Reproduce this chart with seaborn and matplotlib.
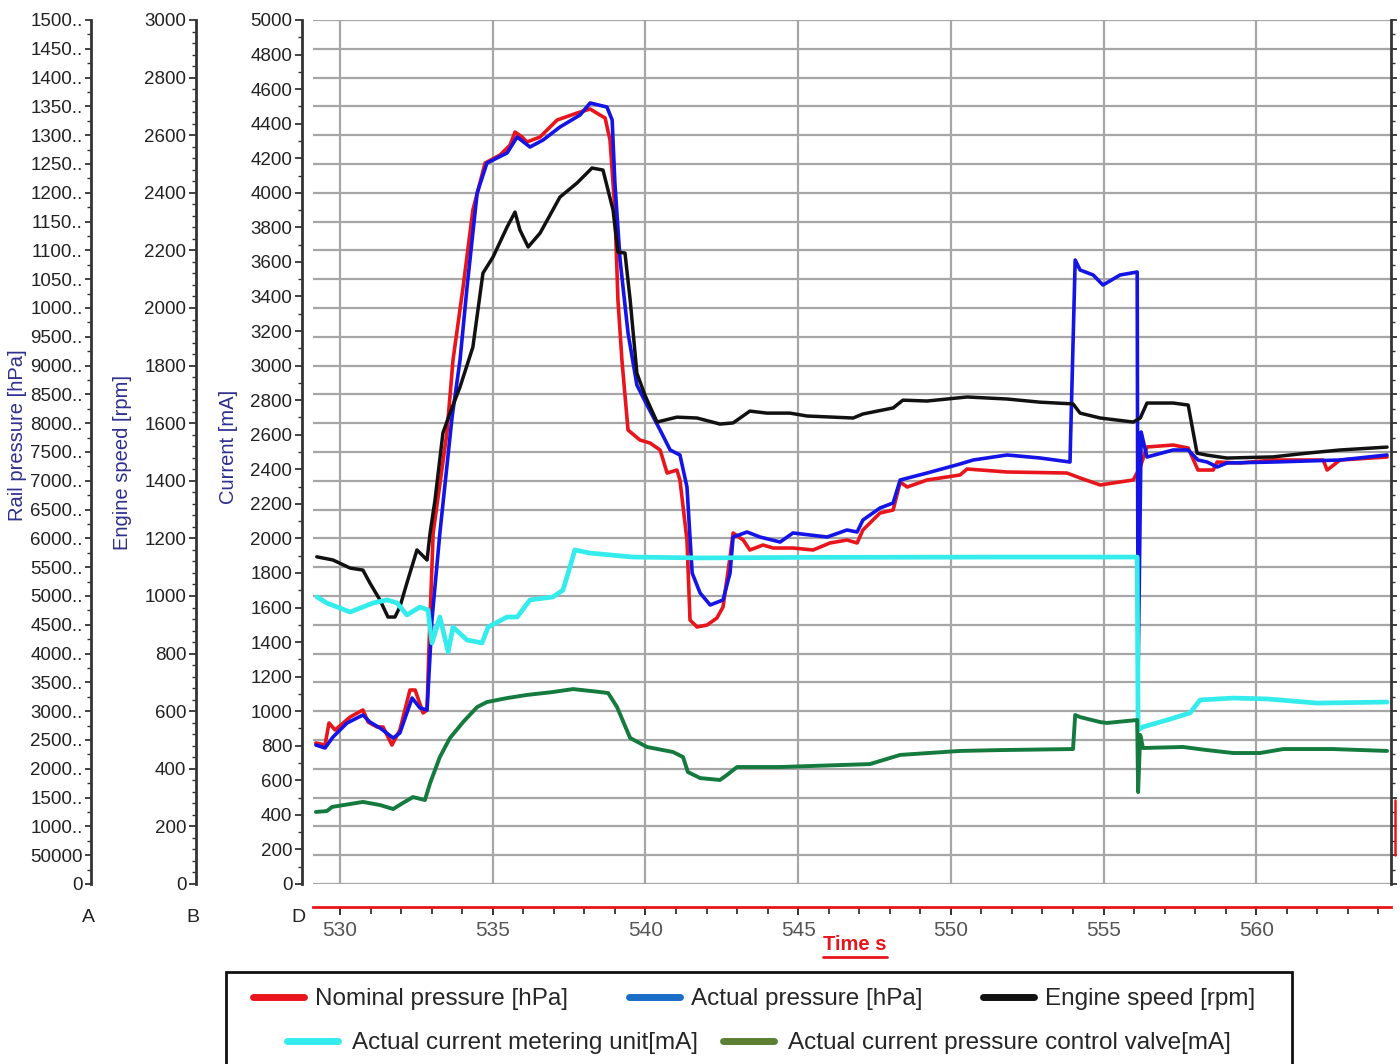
import matplotlib
matplotlib.use('Agg')
import matplotlib.pyplot as plt
import seaborn as sns
from matplotlib.ticker import MultipleLocator, FuncFormatter
from matplotlib.lines import Line2D
from matplotlib.patches import Rectangle

sns.set_style('white')
plt.rcParams['font.family'] = ['Liberation Sans', 'DejaVu Sans']

# ---------------- data ----------------
# Engine speed [rpm]  (axis B)
speed_t = [529.24, 529.77, 530.33, 530.75, 530.98, 531.31, 531.57, 531.80, 531.96, 532.19,
           532.52, 532.85, 532.95, 533.11, 533.37, 533.60, 533.93, 534.35, 534.68, 535.01,
           535.47, 535.73, 535.89, 536.16, 536.55, 537.20, 537.76, 538.25, 538.61, 538.94,
           539.10, 539.33, 539.50, 539.72, 539.98, 540.38, 541.03, 541.69, 542.44, 542.87,
           543.42, 543.98, 544.73, 545.29, 546.80, 547.12, 548.11, 548.43, 549.22, 550.53,
           551.84, 552.92, 554.00, 554.23, 554.89, 555.97, 556.20, 556.42, 557.28, 557.77,
           558.06, 558.39, 559.04, 560.55, 561.66, 562.74, 564.28]
speed_rpm = [1136, 1125, 1097, 1090, 1045, 986, 927, 927, 962, 1045,
             1160, 1125, 1219, 1333, 1566, 1635, 1726, 1864, 2121, 2177,
             2281, 2333, 2271, 2212, 2260, 2385, 2434, 2486, 2479, 2340,
             2194, 2191, 2028, 1774, 1698, 1604, 1621, 1618, 1597, 1601,
             1642, 1635, 1635, 1625, 1618, 1632, 1653, 1680, 1677, 1691,
             1684, 1673, 1667, 1635, 1618, 1604, 1618, 1670, 1670, 1663,
             1496, 1489, 1479, 1483, 1496, 1507, 1517]

# Nominal pressure [hPa]  (axis A)
nominal_t = [529.21, 529.51, 529.64, 529.84, 530.33, 530.75, 530.92, 531.21, 531.41, 531.70,
             531.96, 532.29, 532.46, 532.72, 532.85, 532.91, 533.05, 533.50, 533.70, 534.03,
             534.35, 534.75, 535.24, 535.57, 535.73, 535.96, 536.12, 536.55, 537.11, 537.76,
             538.19, 538.51, 538.68, 538.84, 539.00, 539.10, 539.23, 539.43, 539.82, 540.15,
             540.48, 540.71, 541.03, 541.13, 541.36, 541.46, 541.69, 542.02, 542.34, 542.54,
             542.77, 542.87, 543.20, 543.42, 543.85, 544.18, 544.83, 545.49, 546.04, 546.60,
             546.93, 547.12, 547.68, 548.11, 548.34, 548.57, 549.22, 550.30, 550.53, 551.84,
             553.80, 554.23, 554.89, 555.31, 555.97, 556.20, 556.42, 557.28, 557.77, 558.09,
             558.59, 558.72, 559.47, 560.55, 562.19, 562.32, 562.74, 564.28]
nominal_hpa = [244800, 241300, 279500, 267400, 289900, 302100, 281200, 272600, 272600, 241300,
               267400, 336800, 336800, 296900, 302100, 406200, 609400, 783000, 909700, 1036400,
               1170100, 1251700, 1265600, 1283000, 1305500, 1296900, 1288200, 1296900, 1326400, 1338500,
               1345500, 1335100, 1329900, 1291700, 1170100, 1013900, 909700, 788200, 770800, 765600,
               753500, 713500, 718700, 701400, 597200, 458300, 446200, 449600, 461800, 480900,
               567700, 609400, 597200, 579900, 588500, 583300, 583300, 579900, 592000, 597200,
               592000, 614600, 644100, 649300, 697900, 689200, 701400, 710100, 720500, 715300,
               713500, 704900, 692700, 696200, 701400, 724000, 758700, 762100, 756900, 718700,
               718700, 732600, 730900, 736100, 736100, 718700, 736100, 741300]

# Actual pressure [hPa]  (axis A)
actual_t = [529.21, 529.51, 529.77, 530.23, 530.75, 530.98, 531.31, 531.74, 531.96, 532.36,
            532.62, 532.85, 533.01, 533.27, 533.67, 533.93, 534.16, 534.49, 534.81, 535.47,
            535.80, 536.22, 536.65, 537.20, 537.86, 538.19, 538.74, 538.91, 539.00, 539.17,
            539.43, 539.72, 540.05, 540.48, 540.81, 541.13, 541.36, 541.53, 541.79, 542.12,
            542.54, 542.77, 542.87, 543.33, 543.75, 544.41, 544.83, 545.95, 546.60, 546.93,
            547.12, 547.68, 548.11, 548.34, 549.22, 550.30, 550.73, 551.84, 552.92, 553.90,
            554.07, 554.23, 554.66, 554.98, 555.54, 556.10, 556.13, 556.23, 556.42, 557.28,
            557.77, 558.09, 558.39, 558.72, 559.04, 560.55, 562.74, 564.28]
actual_hpa = [241300, 236100, 255200, 279500, 293400, 281200, 270800, 253500, 262100, 322900,
              305500, 302100, 458300, 609400, 810800, 909700, 1036400, 1199600, 1251700, 1269100,
              1296900, 1279500, 1291700, 1314200, 1335100, 1355900, 1348900, 1326400, 1217000, 1083300,
              956600, 866300, 831600, 788200, 753500, 744800, 689200, 539900, 505200, 484400,
              493100, 539900, 602400, 611100, 602400, 593700, 609400, 602400, 614600, 611100,
              631900, 652800, 661500, 701400, 713500, 729200, 736100, 744800, 739600, 732600,
              1083300, 1066000, 1057300, 1039900, 1057300, 1062500, 359400, 784700, 741300, 753500,
              753500, 736100, 732600, 724000, 730900, 732600, 736100, 744800]

# Actual current metering unit [mA]  (axis D)
metering_t = [529.25, 529.57, 530.33, 531.08, 531.54, 531.87, 532.19, 532.62, 532.88, 533.01,
              533.27, 533.54, 533.70, 534.16, 534.65, 534.85, 535.47, 535.80, 536.22, 536.97,
              537.30, 537.47, 537.69, 538.19, 539.59, 541.79, 545.06, 551.61, 556.10, 556.13,
              556.29, 557.08, 557.83, 558.16, 559.24, 560.35, 561.99, 564.28]
metering_ma = [1661, 1626, 1574, 1626, 1644, 1626, 1557, 1603, 1586, 1395,
               1545, 1343, 1487, 1412, 1395, 1487, 1545, 1545, 1644, 1661,
               1701, 1800, 1933, 1915, 1892, 1887, 1890, 1892, 1892, 891,
               909, 949, 990, 1065, 1076, 1071, 1047, 1053]

# Actual current pressure control valve [mA]  (axis D)
valve_t = [529.21, 529.57, 529.74, 530.75, 531.31, 531.74, 532.06, 532.39, 532.78, 532.95,
           533.27, 533.60, 534.03, 534.49, 534.81, 535.47, 536.12, 536.97, 537.63, 538.51,
           538.78, 539.07, 539.50, 540.05, 540.90, 541.23, 541.39, 541.79, 542.44, 542.67,
           543.00, 544.41, 547.35, 548.34, 550.30, 551.61, 554.00, 554.07, 554.23, 554.89,
           555.11, 556.10, 556.13, 556.20, 556.29, 557.60, 558.39, 559.24, 560.12, 560.88,
           562.51, 564.28]
valve_ma = [417, 422, 446, 475, 457, 434, 469, 503, 486, 584,
            735, 845, 937, 1024, 1053, 1076, 1094, 1111, 1128, 1111,
            1105, 1024, 845, 793, 764, 735, 648, 613, 602, 631,
            677, 677, 694, 747, 770, 775, 781, 978, 966, 937,
            932, 949, 532, 862, 787, 793, 775, 758, 758, 781,
            781, 770]

legend_labels = ['Nominal pressure [hPa]', 'Actual pressure [hPa]', 'Engine speed [rpm]',
                 'Actual current metering unit[mA]', 'Actual current pressure control valve[mA]']

# axis ranges
time_range = (529.116, 564.41)
rail_range = (0, 1500000)
speed_range = (0, 3000)
current_range = (0, 5000)

# ---------------- style ----------------
RED = '#e8161c'
BLUE = '#1414e6'
BLACK = '#111111'
CYAN = '#35ecec'
GREEN = '#157a3e'
LEG_COLORS = ['#e8161c', '#1a6ec6', '#111111', '#35ecec', '#5c7f33']
NAVY = '#2f2f8e'
GRID = '#a6a6a6'
SPINE = '#333333'

W, H = 1400, 1064
L, R, T, B = 313, 1391, 20, 884
fig = plt.figure(figsize=(W / 100, H / 100), dpi=100)
fig.patch.set_facecolor('white')
axA = fig.add_axes([L / W, 1 - B / H, (R - L) / W, (B - T) / H])
axB = axA.twinx()
axD = axA.twinx()

# ---------------- lines ----------------
kw = dict(estimator=None, sort=False, legend=False)
sns.lineplot(x=nominal_t, y=nominal_hpa, ax=axA, color=RED, linewidth=2.6, **kw)
sns.lineplot(x=actual_t, y=actual_hpa, ax=axA, color=BLUE, linewidth=2.6, **kw)
sns.lineplot(x=speed_t, y=speed_rpm, ax=axB, color=BLACK, linewidth=2.5, **kw)
sns.lineplot(x=metering_t, y=metering_ma, ax=axD, color=CYAN, linewidth=3.4, **kw)
sns.lineplot(x=valve_t, y=valve_ma, ax=axD, color=GREEN, linewidth=2.8, **kw)

for a in (axA, axB, axD):
    a.set_xlabel('')
    a.set_ylabel('')
axA.set_xlim(*time_range)
axA.set_ylim(*rail_range)
axB.set_ylim(*speed_range)
axD.set_ylim(*current_range)

# ---------------- grid (host axis) ----------------
axA.xaxis.set_major_locator(MultipleLocator(5))
axA.xaxis.set_minor_locator(MultipleLocator(1))
axA.yaxis.set_major_locator(MultipleLocator(50000))
axA.yaxis.set_minor_locator(MultipleLocator(25000))
axA.grid(True, which='major', color=GRID, linewidth=1.6)
axA.set_axisbelow(True)


def trunc_label(v, pos):
    s = str(int(round(v)))
    return s if len(s) <= 5 else s[:4] + '..'


axA.yaxis.set_major_formatter(FuncFormatter(trunc_label))

# ---------------- spines ----------------
axA.spines['top'].set_visible(False)
axA.spines['left'].set_position(('axes', (91 - L) / (R - L)))
axA.spines['left'].set_color(SPINE)
axA.spines['left'].set_linewidth(2)
axA.spines['right'].set_color(SPINE)
axA.spines['right'].set_linewidth(2)
axA.spines['bottom'].set_position(('axes', -23 / (B - T)))
axA.spines['bottom'].set_color(RED)
axA.spines['bottom'].set_linewidth(2)

for a, xpix in ((axB, 196), (axD, 302)):
    for s in ('top', 'bottom', 'right'):
        a.spines[s].set_visible(False)
    a.spines['left'].set_visible(True)
    a.spines['left'].set_position(('axes', (xpix - L) / (R - L)))
    a.spines['left'].set_color(SPINE)
    a.spines['left'].set_linewidth(2)
    a.yaxis.tick_left()
    a.yaxis.set_major_locator(MultipleLocator(200))

axB.yaxis.set_minor_locator(MultipleLocator(40))
axD.yaxis.set_minor_locator(MultipleLocator(100))

# ---------------- ticks ----------------
axA.tick_params(axis='y', which='major', left=True, right=True, labelleft=True, labelright=False,
                direction='out', length=4, width=1.2, colors='#222222', labelsize=13.5, pad=2)
axA.tick_params(axis='y', which='minor', left=True, right=True, direction='out', length=3,
                width=1.0, colors='#333333')
axA.tick_params(axis='x', which='major', bottom=True, top=False, direction='out', length=6,
                width=1.3, color='#222222', labelcolor='#555555', labelsize=15, pad=4)
axA.tick_params(axis='x', which='minor', bottom=True, top=False, direction='out', length=5,
                width=1.2, color='#222222')
for a in (axB, axD):
    a.tick_params(axis='y', which='major', left=True, right=False, labelleft=True,
                  labelright=False, direction='out', length=5, width=1.2, colors='#222222',
                  labelsize=13.5, pad=2)
    a.tick_params(axis='y', which='minor', left=True, right=False, direction='out', length=3,
                  width=1.0, colors='#333333')

# ---------------- axis titles and letters ----------------
fig.text(18 / W, 1 - 435 / H, 'Rail pressure [hPa]', rotation=90, ha='center', va='center',
         color=NAVY, fontsize=14.5)
fig.text(123 / W, 1 - 463 / H, 'Engine speed [rpm]', rotation=90, ha='center', va='center',
         color=NAVY, fontsize=14.5)
fig.text(228 / W, 1 - 447 / H, 'Current [mA]', rotation=90, ha='center', va='center',
         color=NAVY, fontsize=14.5)
for letter, xp in (('A', 88), ('B', 193), ('D', 298)):
    fig.text(xp / W, 1 - 918 / H, letter, ha='center', va='center', fontsize=14, color='#222222')

tl = fig.text(855 / W, 1 - 945 / H, 'Time s', ha='center', va='center', color=RED,
              fontsize=14.5, fontweight='bold')

# small red cursor mark at right edge
axA.add_line(Line2D([1.004, 1.004], [0.034, 0.097], transform=axA.transAxes, color=RED,
                    lw=1.8, clip_on=False))

# ---------------- legend ----------------
handles = [Line2D([0], [0], color=c, lw=5) for c in LEG_COLORS]
fig.legend(handles[:3], legend_labels[:3], loc='center', bbox_to_anchor=(754 / W, 1 - 999 / H),
           ncol=3, frameon=False, fontsize=17.5, handlelength=2.1, handletextpad=0.45,
           columnspacing=2.5, borderaxespad=0)
fig.legend(handles[3:], legend_labels[3:], loc='center', bbox_to_anchor=(759 / W, 1 - 1043 / H),
           ncol=2, frameon=False, fontsize=17.5, handlelength=2.1, handletextpad=0.6,
           columnspacing=1.0, borderaxespad=0)
fig.add_artist(Rectangle((226 / W, -0.02), 1066 / W, 1 - 972 / H + 0.02,
                         transform=fig.transFigure, fill=False, ec='#111111', lw=2))

# underline of the time label
fig.canvas.draw()
bb = tl.get_window_extent()
fig.add_artist(Line2D([bb.x0 / W, bb.x1 / W], [(bb.y0 - 2) / H] * 2, transform=fig.transFigure,
                      color=RED, lw=2))

fig.savefig('out.png', dpi=100, facecolor='white')
